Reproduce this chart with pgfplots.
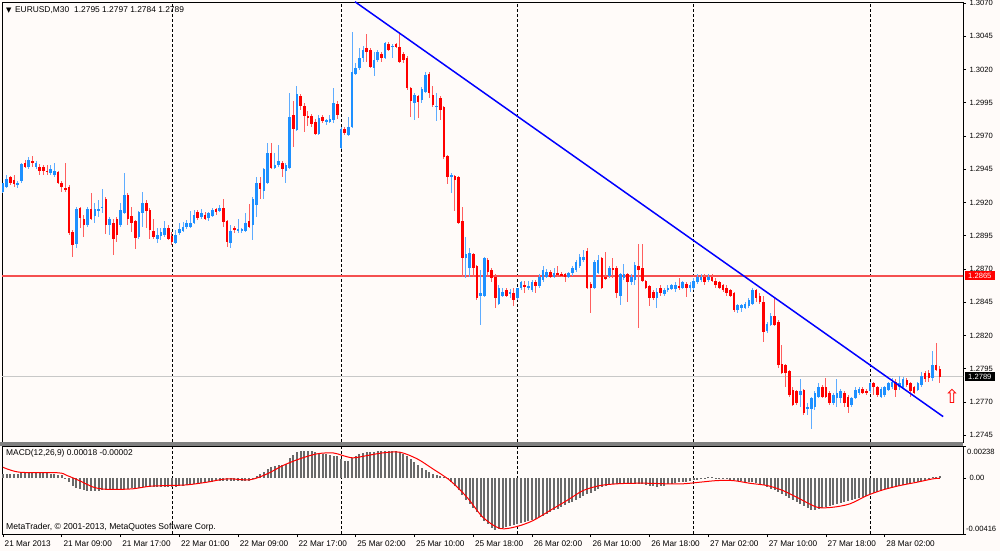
\documentclass[border=0pt]{standalone}
\usepackage{fontspec}
\setmainfont{Liberation Sans}
\newfontfamily\dejavu{DejaVu Sans}
\usepackage{pgfplots}
\usepackage{pgfplotstable}
\pgfplotsset{compat=1.18}

\definecolor{bg}{RGB}{255,251,249}
\definecolor{bull}{RGB}{30,144,255}
\definecolor{bullw}{RGB}{95,172,255}
\definecolor{bear}{RGB}{255,0,0}
\definecolor{bearw}{RGB}{255,95,95}
\definecolor{resline}{RGB}{245,80,80}
\definecolor{bidline}{RGB}{200,200,200}
\definecolor{histgray}{RGB}{105,105,105}
\definecolor{band}{RGB}{128,128,128}

\pgfplotstableread{
n o h l c m
0 1.2928 1.2935 1.2927 1.2935 0.00030
1 1.2932 1.2941 1.2931 1.2938 0.00030
2 1.2939 1.2940 1.2933 1.2935 0.00031
3 1.2937 1.2941 1.2932 1.2934 0.00032
4 1.2933 1.2936 1.2931 1.2935 0.00033
5 1.2936 1.2950 1.2935 1.2949 0.00037
6 1.2950 1.2952 1.2946 1.2947 0.00039
7 1.2947 1.2954 1.2945 1.2952 0.00041
8 1.2951 1.2955 1.2947 1.2950 0.00041
9 1.2947 1.2951 1.2945 1.2950 0.00039
10 1.2947 1.2949 1.2941 1.2944 0.00039
11 1.2947 1.2948 1.2941 1.2944 0.00037
12 1.2944 1.2948 1.2941 1.2943 0.00036
13 1.2942 1.2948 1.2941 1.2945 0.00033
14 1.2941 1.2950 1.2939 1.2944 0.00031
15 1.2943 1.2944 1.2934 1.2935 0.00026
16 1.2935 1.2936 1.2928 1.2932 0.00019
17 1.2931 1.2950 1.2928 1.2930 -0.00007
18 1.2932 1.2933 1.2896 1.2897 -0.00030
19 1.2898 1.2899 1.2879 1.2888 -0.00059
20 1.2889 1.2917 1.2886 1.2915 -0.00074
21 1.2916 1.2917 1.2901 1.2908 -0.00082
22 1.2908 1.2911 1.2894 1.2903 -0.00089
23 1.2903 1.2917 1.2902 1.2915 -0.00093
24 1.2915 1.2927 1.2907 1.2908 -0.00093
25 1.2910 1.2920 1.2905 1.2915 -0.00093
26 1.2914 1.2922 1.2909 1.2915 -0.00093
27 1.2916 1.2930 1.2912 1.2917 -0.00091
28 1.2923 1.2924 1.2896 1.2903 -0.00089
29 1.2903 1.2909 1.2896 1.2908 -0.00089
30 1.2905 1.2908 1.2881 1.2893 -0.00089
31 1.2908 1.2909 1.2890 1.2896 -0.00088
32 1.2903 1.2920 1.2902 1.2914 -0.00085
33 1.2912 1.2942 1.2911 1.2926 -0.00082
34 1.2926 1.2927 1.2903 1.2908 -0.00078
35 1.2910 1.2917 1.2898 1.2905 -0.00074
36 1.2906 1.2907 1.2885 1.2893 -0.00073
37 1.2894 1.2914 1.2893 1.2913 -0.00071
38 1.2912 1.2928 1.2902 1.2920 -0.00067
39 1.2920 1.2922 1.2901 1.2914 -0.00067
40 1.2914 1.2916 1.2893 1.2899 -0.00067
41 1.2899 1.2908 1.2893 1.2894 -0.00067
42 1.2893 1.2901 1.2890 1.2896 -0.00067
43 1.2895 1.2901 1.2892 1.2898 -0.00067
44 1.2896 1.2906 1.2894 1.2901 -0.00067
45 1.2901 1.2903 1.2892 1.2893 -0.00067
46 1.2895 1.2898 1.2888 1.2890 -0.00067
47 1.2890 1.2899 1.2889 1.2896 -0.00063
48 1.2897 1.2905 1.2896 1.2900 -0.00059
49 1.2899 1.2905 1.2898 1.2902 -0.00056
50 1.2902 1.2907 1.2900 1.2905 -0.00052
51 1.2902 1.2914 1.2901 1.2905 -0.00048
52 1.2905 1.2914 1.2904 1.2911 -0.00045
53 1.2913 1.2914 1.2907 1.2908 -0.00041
54 1.2909 1.2915 1.2908 1.2912 -0.00037
55 1.2911 1.2913 1.2907 1.2908 -0.00033
56 1.2908 1.2913 1.2906 1.2912 -0.00030
57 1.2910 1.2916 1.2909 1.2914 -0.00026
58 1.2915 1.2916 1.2911 1.2913 -0.00022
59 1.2914 1.2918 1.2913 1.2916 -0.00019
60 1.2916 1.2923 1.2902 1.2905 -0.00019
61 1.2906 1.2907 1.2887 1.2890 -0.00022
62 1.2890 1.2903 1.2886 1.2899 -0.00022
63 1.2901 1.2902 1.2897 1.2899 -0.00022
64 1.2899 1.2908 1.2897 1.2900 -0.00022
65 1.2899 1.2901 1.2897 1.2900 -0.00022
66 1.2899 1.2912 1.2898 1.2905 -0.00022
67 1.2906 1.2919 1.2901 1.2902 -0.00019
68 1.2903 1.2924 1.2892 1.2923 -0.00007
69 1.2918 1.2939 1.2909 1.2935 0.00015
70 1.2935 1.2939 1.2923 1.2930 0.00030
71 1.2929 1.2946 1.2923 1.2945 0.00045
72 1.2935 1.2965 1.2934 1.2957 0.00067
73 1.2957 1.2965 1.2945 1.2946 0.00082
74 1.2946 1.2957 1.2945 1.2948 0.00089
75 1.2948 1.2963 1.2947 1.2951 0.00097
76 1.2950 1.2951 1.2939 1.2945 0.00100
77 1.2944 1.2950 1.2935 1.2948 0.00104
78 1.2946 1.3002 1.2945 1.2984 0.00149
79 1.2986 1.2996 1.2962 1.2975 0.00171
80 1.2975 1.3008 1.2974 1.3002 0.00193
81 1.3000 1.3002 1.2990 1.2993 0.00201
82 1.2993 1.2995 1.2973 1.2985 0.00204
83 1.2985 1.2989 1.2978 1.2984 0.00204
84 1.2985 1.2987 1.2977 1.2979 0.00201
85 1.2981 1.2983 1.2971 1.2972 0.00197
86 1.2972 1.2986 1.2971 1.2984 0.00189
87 1.2984 1.2986 1.2980 1.2981 0.00182
88 1.2981 1.2983 1.2978 1.2982 0.00175
89 1.2981 1.2986 1.2980 1.2983 0.00171
90 1.2982 1.3006 1.2980 1.2995 0.00167
91 1.2994 1.2996 1.2983 1.2986 0.00160
92 1.2961 1.2977 1.2960 1.2975 0.00141
93 1.2975 1.2977 1.2971 1.2972 0.00130
94 1.2971 1.2984 1.2970 1.2977 0.00126
95 1.2977 1.3048 1.2976 1.3018 0.00149
96 1.3017 1.3025 1.3016 1.3021 0.00163
97 1.3021 1.3036 1.3020 1.3029 0.00175
98 1.3029 1.3038 1.3026 1.3035 0.00186
99 1.3036 1.3047 1.3026 1.3033 0.00193
100 1.3035 1.3036 1.3021 1.3022 0.00197
101 1.3021 1.3033 1.3015 1.3027 0.00197
102 1.3027 1.3035 1.3026 1.3033 0.00201
103 1.3032 1.3033 1.3026 1.3029 0.00201
104 1.3029 1.3041 1.3028 1.3040 0.00204
105 1.3039 1.3041 1.3034 1.3035 0.00204
106 1.3037 1.3039 1.3029 1.3038 0.00204
107 1.3039 1.3040 1.3036 1.3037 0.00201
108 1.3037 1.3047 1.3025 1.3026 0.00193
109 1.3032 1.3033 1.3025 1.3027 0.00182
110 1.3029 1.3030 1.3005 1.3006 0.00163
111 1.3006 1.3007 1.2984 1.2996 0.00141
112 1.2995 1.3002 1.2982 1.3001 0.00119
113 1.3000 1.3001 1.2984 1.2996 0.00097
114 1.2997 1.3007 1.2995 1.3005 0.00074
115 1.3003 1.3018 1.3002 1.3016 0.00059
116 1.3017 1.3018 1.2999 1.3002 0.00045
117 1.3001 1.3008 1.2992 1.2993 0.00033
118 1.2992 1.3002 1.2981 1.2993 0.00026
119 1.2999 1.3000 1.2982 1.2990 0.00015
120 1.2992 1.2993 1.2953 1.2954 0.00004
121 1.2955 1.2956 1.2934 1.2939 -0.00007
122 1.2939 1.2942 1.2927 1.2941 -0.00030
123 1.2940 1.2941 1.2914 1.2937 -0.00059
124 1.2939 1.2940 1.2904 1.2905 -0.00089
125 1.2906 1.2917 1.2864 1.2878 -0.00126
126 1.2878 1.2894 1.2863 1.2881 -0.00163
127 1.2871 1.2886 1.2864 1.2882 -0.00193
128 1.2881 1.2882 1.2864 1.2871 -0.00223
129 1.2872 1.2873 1.2847 1.2848 -0.00253
130 1.2850 1.2869 1.2828 1.2852 -0.00286
131 1.2850 1.2879 1.2849 1.2878 -0.00319
132 1.2877 1.2878 1.2864 1.2868 -0.00345
133 1.2869 1.2871 1.2860 1.2863 -0.00372
134 1.2864 1.2866 1.2841 1.2848 -0.00386
135 1.2844 1.2858 1.2843 1.2856 -0.00379
136 1.2850 1.2856 1.2849 1.2853 -0.00372
137 1.2854 1.2856 1.2849 1.2850 -0.00364
138 1.2851 1.2855 1.2848 1.2853 -0.00357
139 1.2852 1.2856 1.2842 1.2847 -0.00349
140 1.2848 1.2856 1.2847 1.2856 -0.00342
141 1.2856 1.2861 1.2854 1.2860 -0.00334
142 1.2858 1.2861 1.2852 1.2857 -0.00327
143 1.2856 1.2861 1.2854 1.2857 -0.00319
144 1.2854 1.2862 1.2853 1.2860 -0.00312
145 1.2860 1.2862 1.2852 1.2857 -0.00305
146 1.2857 1.2866 1.2856 1.2864 -0.00293
147 1.2862 1.2872 1.2860 1.2869 -0.00282
148 1.2864 1.2870 1.2863 1.2868 -0.00267
149 1.2868 1.2869 1.2863 1.2864 -0.00253
150 1.2864 1.2871 1.2863 1.2867 -0.00238
151 1.2867 1.2872 1.2864 1.2866 -0.00227
152 1.2866 1.2868 1.2864 1.2865 -0.00215
153 1.2866 1.2867 1.2860 1.2864 -0.00204
154 1.2864 1.2868 1.2863 1.2867 -0.00189
155 1.2867 1.2872 1.2865 1.2871 -0.00175
156 1.2869 1.2877 1.2868 1.2875 -0.00160
157 1.2872 1.2881 1.2871 1.2879 -0.00145
158 1.2877 1.2884 1.2875 1.2879 -0.00130
159 1.2884 1.2886 1.2855 1.2856 -0.00119
160 1.2859 1.2860 1.2837 1.2856 -0.00108
161 1.2856 1.2877 1.2855 1.2875 -0.00097
162 1.2867 1.2881 1.2866 1.2877 -0.00082
163 1.2878 1.2879 1.2855 1.2856 -0.00067
164 1.2864 1.2883 1.2862 1.2863 -0.00059
165 1.2865 1.2872 1.2863 1.2871 -0.00052
166 1.2871 1.2878 1.2863 1.2869 -0.00048
167 1.2871 1.2872 1.2848 1.2852 -0.00045
168 1.2850 1.2867 1.2843 1.2866 -0.00045
169 1.2863 1.2874 1.2862 1.2866 -0.00041
170 1.2866 1.2867 1.2845 1.2860 -0.00041
171 1.2860 1.2866 1.2858 1.2864 -0.00041
172 1.2862 1.2875 1.2858 1.2873 -0.00041
173 1.2872 1.2889 1.2826 1.2869 -0.00045
174 1.2871 1.2889 1.2860 1.2861 -0.00048
175 1.2861 1.2862 1.2855 1.2856 -0.00052
176 1.2857 1.2858 1.2842 1.2848 -0.00056
177 1.2853 1.2854 1.2847 1.2848 -0.00059
178 1.2848 1.2856 1.2841 1.2853 -0.00063
179 1.2856 1.2858 1.2850 1.2852 -0.00059
180 1.2851 1.2856 1.2850 1.2854 -0.00056
181 1.2854 1.2858 1.2853 1.2856 -0.00048
182 1.2855 1.2859 1.2854 1.2858 -0.00045
183 1.2855 1.2860 1.2853 1.2858 -0.00037
184 1.2857 1.2863 1.2854 1.2856 -0.00033
185 1.2856 1.2861 1.2855 1.2860 -0.00030
186 1.2859 1.2860 1.2849 1.2856 -0.00026
187 1.2856 1.2860 1.2853 1.2858 -0.00022
188 1.2856 1.2863 1.2854 1.2861 -0.00015
189 1.2860 1.2866 1.2859 1.2864 -0.00011
190 1.2862 1.2866 1.2860 1.2864 -0.00007
191 1.2864 1.2866 1.2858 1.2860 -0.00004
192 1.2862 1.2866 1.2860 1.2864 0.00004
193 1.2864 1.2866 1.2860 1.2861 0.00004
194 1.2861 1.2863 1.2856 1.2858 0.00002
195 1.2860 1.2861 1.2855 1.2856 -0.00002
196 1.2858 1.2859 1.2853 1.2854 -0.00004
197 1.2856 1.2858 1.2850 1.2852 -0.00007
198 1.2854 1.2855 1.2849 1.2850 -0.00011
199 1.2852 1.2853 1.2838 1.2839 -0.00015
200 1.2839 1.2844 1.2837 1.2843 -0.00019
201 1.2841 1.2844 1.2838 1.2843 -0.00022
202 1.2841 1.2845 1.2840 1.2844 -0.00026
203 1.2842 1.2848 1.2841 1.2847 -0.00030
204 1.2844 1.2856 1.2843 1.2854 -0.00033
205 1.2854 1.2855 1.2845 1.2848 -0.00037
206 1.2850 1.2852 1.2844 1.2845 -0.00045
207 1.2845 1.2850 1.2815 1.2823 -0.00052
208 1.2823 1.2830 1.2822 1.2829 -0.00067
209 1.2828 1.2837 1.2827 1.2835 -0.00078
210 1.2835 1.2848 1.2827 1.2828 -0.00089
211 1.2830 1.2832 1.2796 1.2798 -0.00104
212 1.2799 1.2813 1.2791 1.2792 -0.00119
213 1.2798 1.2799 1.2781 1.2792 -0.00134
214 1.2793 1.2794 1.2774 1.2775 -0.00149
215 1.2779 1.2781 1.2767 1.2768 -0.00163
216 1.2778 1.2779 1.2768 1.2769 -0.00178
217 1.2775 1.2787 1.2766 1.2778 -0.00193
218 1.2779 1.2780 1.2760 1.2762 -0.00208
219 1.2765 1.2769 1.2760 1.2766 -0.00223
220 1.2765 1.2774 1.2750 1.2773 -0.00234
221 1.2766 1.2778 1.2764 1.2777 -0.00234
222 1.2774 1.2784 1.2773 1.2781 -0.00230
223 1.2781 1.2783 1.2773 1.2774 -0.00223
224 1.2781 1.2788 1.2773 1.2774 -0.00215
225 1.2777 1.2778 1.2768 1.2769 -0.00208
226 1.2769 1.2777 1.2768 1.2775 -0.00201
227 1.2773 1.2787 1.2766 1.2777 -0.00193
228 1.2773 1.2780 1.2769 1.2778 -0.00186
229 1.2777 1.2778 1.2766 1.2769 -0.00178
230 1.2774 1.2775 1.2762 1.2766 -0.00171
231 1.2768 1.2774 1.2766 1.2773 -0.00163
232 1.2773 1.2781 1.2772 1.2779 -0.00156
233 1.2777 1.2781 1.2775 1.2780 -0.00149
234 1.2780 1.2781 1.2776 1.2777 -0.00141
235 1.2778 1.2780 1.2775 1.2777 -0.00130
236 1.2778 1.2785 1.2777 1.2784 -0.00119
237 1.2784 1.2785 1.2775 1.2781 -0.00111
238 1.2781 1.2782 1.2774 1.2775 -0.00104
239 1.2774 1.2781 1.2773 1.2780 -0.00093
240 1.2775 1.2782 1.2774 1.2781 -0.00085
241 1.2779 1.2785 1.2778 1.2784 -0.00078
242 1.2781 1.2788 1.2780 1.2785 -0.00071
243 1.2785 1.2787 1.2774 1.2779 -0.00063
244 1.2781 1.2790 1.2779 1.2784 -0.00056
245 1.2781 1.2789 1.2780 1.2787 -0.00052
246 1.2787 1.2788 1.2781 1.2783 -0.00045
247 1.2784 1.2785 1.2774 1.2778 -0.00037
248 1.2781 1.2782 1.2776 1.2777 -0.00033
249 1.2779 1.2785 1.2778 1.2784 -0.00026
250 1.2783 1.2793 1.2781 1.2790 -0.00019
251 1.2792 1.2793 1.2785 1.2787 -0.00011
252 1.2792 1.2794 1.2785 1.2788 -0.00007
253 1.2788 1.2808 1.2786 1.2798 0.00004
254 1.2798 1.2814 1.2793 1.2794 0.00011
255 1.2795 1.2797 1.2784 1.2789 0.00018
}\candles

\pgfplotstableread{
n s
0 0.00080
4.6 0.00043
15 0.00039
17.4 0.00019
21 -0.00022
24.5 -0.00067
27.2 -0.00082
30.5 -0.00085
35.4 -0.00080
40 -0.00061
44.6 -0.00056
50 -0.00051
55.5 -0.00031
61 -0.00006
67.2 -0.00013
71.9 0.00031
76.2 0.00093
80.8 0.00143
85.5 0.00180
89.8 0.00187
92.5 0.00167
95.3 0.00150
99.1 0.00167
103.4 0.00187
108 0.00192
112.7 0.00143
117 0.00068
121.7 -0.00019
126.3 -0.00143
130.6 -0.00291
135.3 -0.00375
139.9 -0.00360
144.3 -0.00316
148.9 -0.00241
153.5 -0.00167
157.9 -0.00093
162.5 -0.00056
167.1 -0.00043
171.5 -0.00039
176.1 -0.00039
180.7 -0.00043
185.1 -0.00043
189.7 -0.00031
194.3 -0.00019
198.7 -0.00019
203.3 -0.00039
208 -0.00056
212.3 -0.00093
216.9 -0.00155
221.6 -0.00217
225.9 -0.00217
230.5 -0.00192
235.2 -0.00130
239.5 -0.00088
244.1 -0.00056
248.8 -0.00031
253.1 -0.00006
255 -0.00002
}\signal

\pgfplotsset{
  mtbase/.style={
    scale only axis, width=961pt,
    xmin=-0.27, xmax=261.3,
    axis line style={black, line width=0.8pt},
    tick style={black, line width=0.8pt},
    tick align=outside, major tick length=3pt,
    scaled y ticks=false, scaled x ticks=false,
    ytick pos=right, yticklabel pos=right,
    extra x ticks={46,92,140,188,236},
    extra x tick labels={,,,,},
    extra x tick style={grid=major, major tick length=0pt,
      major grid style={black, line width=0.9pt, dash pattern=on 3pt off 2pt}},
    yticklabel style={font=\fontsize{7.6}{9}\selectfont,
      /pgf/number format/assume math mode=true},
  },
}

\begin{document}
\begin{tikzpicture}[x=1pt,y=1pt]
\useasboundingbox (0,0) rectangle (1000,551);
\fill[bg] (0,0) rectangle (1000,551);

% ---------- main price panel ----------
\begin{axis}[mtbase,
  at={(2pt,109pt)}, anchor=south west, height=440pt,
  ymin=1.27399, ymax=1.30708,
  xtick=\empty,
  ytick={1.2745,1.2770,1.2795,1.2820,1.2845,1.2870,1.2895,1.2920,1.2945,1.2970,1.2995,1.3020,1.3045,1.3070},
  yticklabel style={/pgf/number format/.cd, fixed, fixed zerofill, precision=4, 1000 sep={}},
]
\addplot[draw=bidline, line width=1pt, forget plot] coordinates {(-1,1.2789) (262,1.2789)};
\addplot[draw=resline, line width=2pt, forget plot] coordinates {(-1,1.2865) (262,1.2865)};

% bullish wicks and bodies
\addplot[draw=none, forget plot,
  restrict expr to domain={\thisrow{c}-\thisrow{o}}{-0.00001:1},
  error bars/.cd, y dir=both, y explicit, error mark=none,
  error bar style={draw=bullw, line width=1pt, solid}]
  table[x=n, y expr={(\thisrow{h}+\thisrow{l})/2}, y error expr={(\thisrow{h}-\thisrow{l})/2}] {\candles};
\addplot[draw=none, forget plot,
  restrict expr to domain={\thisrow{c}-\thisrow{o}}{-0.00001:1},
  error bars/.cd, y dir=both, y explicit, error mark=none,
  error bar style={draw=bull, line width=2.6pt, solid}]
  table[x=n, y expr={(\thisrow{o}+\thisrow{c})/2}, y error expr={max(abs(\thisrow{c}-\thisrow{o})/2,0.00004)}] {\candles};
% bearish wicks and bodies
\addplot[draw=none, forget plot,
  restrict expr to domain={\thisrow{c}-\thisrow{o}}{-1:-0.00001},
  error bars/.cd, y dir=both, y explicit, error mark=none,
  error bar style={draw=bearw, line width=1pt, solid}]
  table[x=n, y expr={(\thisrow{h}+\thisrow{l})/2}, y error expr={(\thisrow{h}-\thisrow{l})/2}] {\candles};
\addplot[draw=none, forget plot,
  restrict expr to domain={\thisrow{c}-\thisrow{o}}{-1:-0.00001},
  error bars/.cd, y dir=both, y explicit, error mark=none,
  error bar style={draw=bear, line width=2.6pt, solid}]
  table[x=n, y expr={(\thisrow{o}+\thisrow{c})/2}, y error expr={max(abs(\thisrow{c}-\thisrow{o})/2,0.00004)}] {\candles};

\addplot[draw=blue, line width=1.5pt, forget plot] coordinates {(95.8,1.3071) (255.9,1.2759)};

\node[text=red, font=\dejavu\fontsize{19}{19}\selectfont, inner sep=0pt] at (axis cs:258.3,1.27745) {⇧};
\coordinate (rl) at (axis cs:261.3,1.2865);
\coordinate (gl) at (axis cs:261.3,1.2789);
\end{axis}

% ---------- MACD panel ----------
\begin{axis}[mtbase,
  at={(2pt,17pt)}, anchor=south west, height=88pt,
  ymin=-0.00416, ymax=0.00238,
  xtick={0,16,32,48,64,80,96,112,128,144,160,176,192,208,224,240},
  xticklabels={21 Mar 2013,21 Mar 09:00,21 Mar 17:00,22 Mar 01:00,22 Mar 09:00,22 Mar 17:00,25 Mar 02:00,25 Mar 10:00,25 Mar 18:00,26 Mar 02:00,26 Mar 10:00,26 Mar 18:00,27 Mar 02:00,27 Mar 10:00,27 Mar 18:00,28 Mar 02:00},
  xtick pos=bottom,
  xticklabel style={anchor=north west, xshift=-1.8pt, font=\fontsize{8.2}{9}\selectfont},
  ytick={-0.00416,0,0.00238}, yticklabels={,0.00,},
]
\addplot[ycomb, draw=histgray, line width=2pt, forget plot] table[x=n, y=m] {\candles};
\addplot[draw=red, line width=1pt, smooth, forget plot] table[x=n, y=s] {\signal};
\end{axis}

% separator band between panels
\fill[band] (0,105) rectangle (963,109);

% price labels on the right scale
\node[fill=red, text=white, anchor=west, inner xsep=3.5pt, inner ysep=0pt, minimum height=9.5pt,
  font=\fontsize{7.6}{8}\selectfont] at ([xshift=1.5pt]rl) {1.2865};
\node[fill=black, text=white, anchor=west, inner xsep=3.5pt, inner ysep=0pt, minimum height=9.5pt,
  font=\fontsize{7.6}{8}\selectfont] at ([xshift=1.5pt]gl) {1.2789};

% MACD extreme labels
\node[anchor=west, inner sep=0pt, font=\fontsize{7.6}{9}\selectfont] at (967,99) {0.00238};
\node[anchor=west, inner sep=0pt, font=\fontsize{7.6}{9}\selectfont] at (966,22) {-0.00416};

% texts
\node[anchor=west, inner sep=0pt, font=\fontsize{8.4}{10}\selectfont] at (6,541)
  {{\dejavu\fontsize{7}{7}\selectfont ▼}\hspace{3.5pt}EURUSD,M30\hspace{5pt}1.2795 1.2797 1.2784 1.2789};
\node[anchor=west, inner sep=0pt, font=\fontsize{8.4}{10}\selectfont] at (6,98)
  {MACD(12,26,9) 0.00018 -0.00002};
\node[anchor=west, inner sep=0pt, font=\fontsize{8.6}{10}\selectfont] at (6,24)
  {MetaTrader, © 2001-2013, MetaQuotes Software Corp.};
\end{tikzpicture}
\end{document}
